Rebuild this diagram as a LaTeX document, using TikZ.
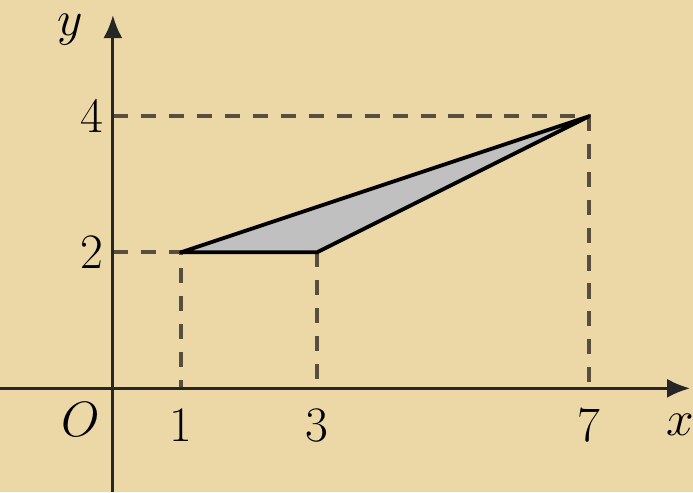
\documentclass[tikz,border=0pt]{standalone}
\usetikzlibrary{arrows.meta}
\definecolor{parchment}{RGB}{236,216,166}
\definecolor{dashgray}{RGB}{88,78,62}
\definecolor{shade}{RGB}{192,192,192}
\tikzset{
    axis/.style={line width=1.3pt, draw=black!85, -{Latex[length=3.4mm, width=2.8mm]}},
    guide/.style={line width=1.6pt, draw=dashgray, dash pattern=on 6.3pt off 5.4pt},
    shaded/.style={fill=shade, draw=black, line width=1.6pt, line join=round},
    lbl/.style={font=\fontsize{20}{24}\selectfont, inner sep=0pt}
}
\begin{document}
\begin{tikzpicture}
%% LAYOUT: 1 unit = 1cm, origin at pixel (113,388)
\fill[parchment] (-1.66,-1.53) rectangle (8.53,5.71);
\useasboundingbox (-1.66,-1.53) rectangle (8.53,5.71);

\coordinate (o)  at (0,0);
\coordinate (a)  at (1,2);
\coordinate (b)  at (3,2);
\coordinate (c)  at (7,4);
\coordinate (x1) at (1,0);
\coordinate (x3) at (3,0);
\coordinate (x7) at (7,0);
\coordinate (y2) at (0,2);
\coordinate (y4) at (0,4);
\coordinate (xs) at (-1.66,0);
\coordinate (xe) at (8.49,0);
\coordinate (ys) at (0,-1.53);
\coordinate (ye) at (0,5.49);

%% ── GUIDES ──────────────────────────────────────────────────────
\draw[guide] (y4) -- (c) -- (x7);
\draw[guide] (y2) -- (a) -- (x1);
\draw[guide] (b) -- (x3);

%% ── TRIANGLE ────────────────────────────────────────────────────
\draw[shaded] (a) -- (b) -- (c) -- cycle;

%% ── AXES ────────────────────────────────────────────────────────
\draw[axis] (xs) -- (xe);
\draw[axis] (ys) -- (ye);

%% ── LABELS ──────────────────────────────────────────────────────
\node[lbl] (lx) at (8.34,-0.54) {$x$};
\node[lbl] (ly) at (-0.63,5.28) {$y$};
\node[lbl] (lo) at (-0.47,-0.46) {$O$};
\node[lbl] (l1) at (1,-0.55) {$1$};
\node[lbl] (l3) at (3,-0.55) {$3$};
\node[lbl] (l7) at (7,-0.55) {$7$};
\node[lbl] (l2) at (-0.31,2) {$2$};
\node[lbl] (l4) at (-0.31,4) {$4$};

\end{tikzpicture}
\end{document}
